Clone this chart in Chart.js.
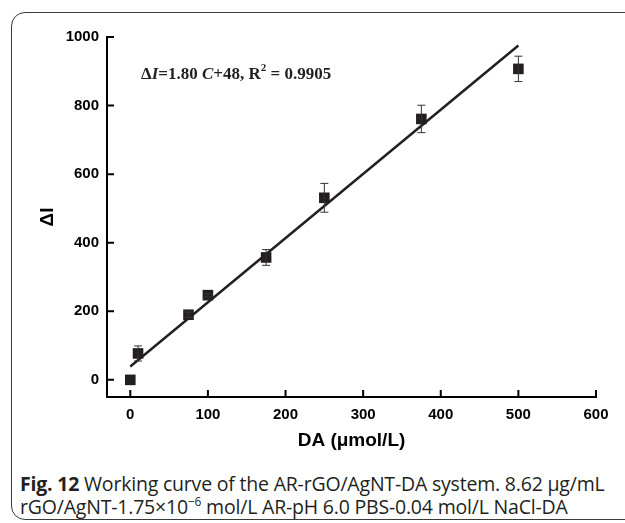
<!DOCTYPE html>
<html>
<head>
<meta charset="utf-8">
<script src="https://cdn.jsdelivr.net/npm/chart.js@4"></script>
<style>
  html, body { margin: 0; padding: 0; background: #fff; }
  body { width: 625px; height: 523px; position: relative; overflow: hidden; }
  #frame {
    position: absolute; left: 11px; top: 12px; width: 700px; height: 508px;
    border: 1.5px solid #3a3a3a; border-radius: 14px; box-sizing: border-box;
  }
  #wrap { position: absolute; left: 0; top: 0; width: 625px; height: 465px; }
  #caption {
    position: absolute; left: 20px; top: 472px; width: 605px; white-space: nowrap;
    font-family: "Open Sans", "Noto Sans", sans-serif; font-size: 19.5px;
    line-height: 23px; color: #231f20; letter-spacing: -0.2px;
  }
  #caption b { font-weight: 700; }
  #caption sup { font-size: 12px; vertical-align: 8px; line-height: 0; }
</style>
</head>
<body>
<div id="frame"></div>
<div id="wrap"><canvas id="curveChart" width="625" height="465"></canvas></div>
<div id="caption"><b>Fig. 12</b> Working curve of the AR-rGO/AgNT-DA system. 8.62 μg/mL<br>rGO/AgNT-1.75×10<sup>−6</sup> mol/L AR-pH 6.0 PBS-0.04 mol/L NaCl-DA</div>

<script>
// data
const concentrations = [0, 10, 75, 100, 175, 250, 375, 500];
const deltaI = [0, 77, 190, 247, 357, 531, 761, 907];
const errors = [0, 22, 8, 5, 23, 42, 40, 37];
const fitX = [0, 500];
const fitY = [39, 975];
const xTicks = [0, 100, 200, 300, 400, 500, 600];
const yTicks = [0, 200, 400, 600, 800, 1000];

const ink = '#231f20';
const tickFont = { family: '"Liberation Sans", Arial, sans-serif', size: 15, weight: 'bold' };
const titleFont = { family: '"Liberation Sans", Arial, sans-serif', size: 19, weight: 'bold' };

// error bars + inward tick marks + equation text
const extras = {
  id: 'extras',
  afterDatasetsDraw(chart) {
    const { ctx, scales: { x, y } } = chart;
    ctx.save();
    ctx.strokeStyle = '#333';
    ctx.lineWidth = 1;
    concentrations.forEach((c, i) => {
      if (!errors[i]) return;
      const px = x.getPixelForValue(c);
      const top = y.getPixelForValue(deltaI[i] + errors[i]);
      const bot = y.getPixelForValue(deltaI[i] - errors[i]);
      ctx.beginPath();
      ctx.moveTo(px, top); ctx.lineTo(px, bot);
      ctx.moveTo(px - 4, top); ctx.lineTo(px + 4, top);
      ctx.moveTo(px - 4, bot); ctx.lineTo(px + 4, bot);
      ctx.stroke();
    });
    ctx.restore();
  },
  afterDraw(chart) {
    const { ctx, scales: { x, y }, chartArea } = chart;
    ctx.save();
    ctx.strokeStyle = '#000';
    ctx.lineWidth = 2;
    ctx.beginPath();
    xTicks.forEach(v => {
      const px = x.getPixelForValue(v);
      ctx.moveTo(px, chartArea.bottom); ctx.lineTo(px, chartArea.bottom - 7);
    });
    yTicks.forEach(v => {
      const py = y.getPixelForValue(v);
      ctx.moveTo(chartArea.left, py); ctx.lineTo(chartArea.left + 7, py);
    });
    ctx.stroke();

    // ΔI=1.80 C+48, R² = 0.9905
    const parts = [
      ['Δ', ''], ['I', 'italic '], ['=1.80 ', ''], ['C', 'italic '],
      ['+48, R', ''], ['2', 'sup'], [' = 0.9905', '']
    ];
    let tx = chartArea.left + 34;
    const ty = chartArea.top + 42;
    ctx.fillStyle = ink;
    ctx.textBaseline = 'alphabetic';
    parts.forEach(([t, s]) => {
      if (s === 'sup') {
        ctx.font = 'bold 11px "Liberation Serif", serif';
        ctx.fillText(t, tx, ty - 8);
      } else {
        ctx.font = s + 'bold 17px "Liberation Serif", serif';
        ctx.fillText(t, tx, ty);
      }
      tx += ctx.measureText(t).width;
    });
    ctx.restore();
  }
};

const ctx = document.getElementById('curveChart').getContext('2d');
new Chart(ctx, {
  type: 'scatter',
  data: {
    datasets: [{
      label: 'DA',
      data: concentrations.map((c, i) => ({ x: c, y: deltaI[i] })),
      pointStyle: 'rect',
      pointRadius: 7.5,
      backgroundColor: ink,
      borderColor: ink,
      borderWidth: 0
    }, {
      label: 'fit',
      data: fitX.map((c, i) => ({ x: c, y: fitY[i] })),
      showLine: true,
      pointRadius: 0,
      borderColor: ink,
      borderWidth: 2.5
    }]
  },
  options: {
    responsive: false,
    animation: false,
    layout: { padding: { left: 0, top: 37, right: 29, bottom: 0 } },
    plugins: { legend: { display: false }, tooltip: { enabled: false } },
    scales: {
      x: {
        min: -30, max: 600,
        afterBuildTicks: s => { s.ticks = xTicks.map(v => ({ value: v })); },
        afterFit: s => { s.height = 68; },
        grid: { display: false, drawTicks: false },
        border: { display: true, color: '#000', width: 2 },
        ticks: { color: '#000', font: tickFont, padding: 9, maxRotation: 0, callback: v => String(v) },
        title: { display: true, text: 'DA (μmol/L)', color: '#000', font: titleFont, padding: { top: 0, bottom: 13 } }
      },
      y: {
        min: -50, max: 1000,
        afterBuildTicks: s => { s.ticks = yTicks.map(v => ({ value: v })); },
        afterFit: s => { s.width = 107; },
        grid: { display: false, drawTicks: false },
        border: { display: true, color: '#000', width: 2 },
        ticks: { color: '#000', font: tickFont, padding: 8, callback: v => String(v) },
        title: { display: true, text: 'ΔI', color: '#000', font: titleFont, padding: { top: 36, bottom: 0 } }
      }
    }
  },
  plugins: [extras]
});
</script>
</body>
</html>
